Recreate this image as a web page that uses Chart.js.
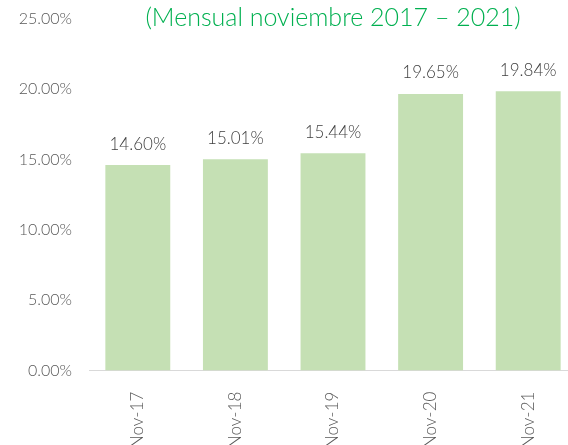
<!DOCTYPE html>
<html>
<head>
<meta charset="utf-8">
<script src="https://cdn.jsdelivr.net/npm/chart.js@4"></script>
<style>
  html, body { margin: 0; padding: 0; background: #fff; overflow: hidden; }
  #wrap { position: absolute; left: 0; top: 0; width: 580px; height: 461px; }
</style>
</head>
<body>
<div id="wrap"><canvas id="chart"></canvas></div>
<script>
const categories = ['Nov-17', 'Nov-18', 'Nov-19', 'Nov-20', 'Nov-21'];
const values = [14.60, 15.01, 15.44, 19.65, 19.84];
const subtitleText = '(Mensual noviembre 2017 \u2013 2021)';

const fontFamily = 'Lato, "Open Sans", sans-serif';
const textGray = '#595959';

// draws the value above each bar and the (cropped) title line
const labelsPlugin = {
  id: 'labelsPlugin',
  afterDatasetsDraw(chart) {
    const ctx = chart.ctx;
    const meta = chart.getDatasetMeta(0);
    ctx.save();
    ctx.font = '300 17px ' + fontFamily;
    ctx.fillStyle = '#404040';
    ctx.textAlign = 'center';
    ctx.textBaseline = 'middle';
    meta.data.forEach((bar, i) => {
      ctx.fillText(values[i].toFixed(2) + '%', bar.x, bar.y - 21);
    });
    const area = chart.chartArea;
    ctx.font = '300 25px ' + fontFamily;
    ctx.fillStyle = '#00b050';
    ctx.fillText(subtitleText, (area.left + area.right) / 2, 18);
    ctx.restore();
  }
};

new Chart(document.getElementById('chart'), {
  type: 'bar',
  data: {
    labels: categories,
    datasets: [{
      data: values,
      backgroundColor: '#c5e0b4',
      barPercentage: 0.665,
      categoryPercentage: 1
    }]
  },
  options: {
    responsive: true,
    maintainAspectRatio: false,
    animation: false,
    layout: { padding: { top: 14, right: 3, left: 0, bottom: 0 } },
    plugins: {
      legend: { display: false },
      tooltip: { enabled: false }
    },
    scales: {
      x: {
        grid: { display: false },
        border: { color: '#d9d9d9', width: 1 },
        ticks: {
          color: textGray,
          font: { family: fontFamily, size: 17, weight: 300 },
          minRotation: 90,
          maxRotation: 90,
          padding: 13
        }
      },
      y: {
        min: 0,
        max: 25,
        grid: { display: false },
        border: { display: false },
        afterFit: (scale) => { scale.width = 89; },
        ticks: {
          stepSize: 5,
          color: textGray,
          font: { family: fontFamily, size: 16, weight: 300 },
          padding: 9,
          callback: (v) => v.toFixed(2) + '%'
        }
      }
    }
  },
  plugins: [labelsPlugin]
});
</script>
</body>
</html>
